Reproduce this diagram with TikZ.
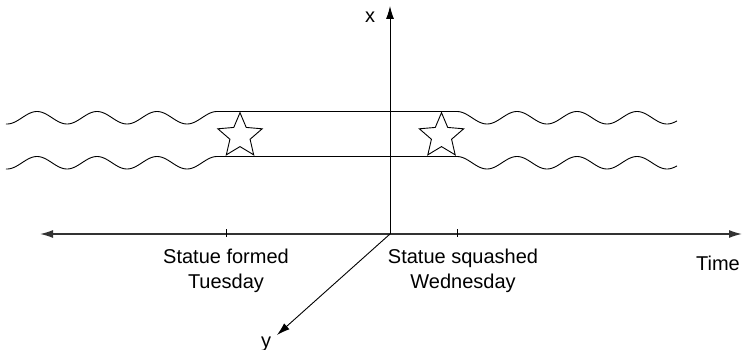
\documentclass[tikz,border=0pt]{standalone}
\usepackage{fontspec}
\setmainfont{Liberation Sans}
\usetikzlibrary{shapes.geometric, arrows.meta, positioning}

\begin{document}
\begin{tikzpicture}[
        x=1pt, y=-1pt,
        axis/.style={line width=1.3pt, draw=black!80, -{Latex[length=13pt, width=8pt]}},
        thinaxis/.style={line width=0.9pt, -{Latex[length=13pt, width=8pt]}},
        wave/.style={line width=0.9pt},
        statue/.style={draw, star, star points=5, star point ratio=2.2, minimum size=46.6pt, inner sep=0pt, line width=0.9pt},
        lbl/.style={font=\fontsize{20}{25}\selectfont, align=center, inner sep=0pt}
    ]
        \useasboundingbox (0,0) rectangle (746,350);

        % axes
        \coordinate (origin) at (390,234);
        \coordinate (left) at (40,234);
        \coordinate (right) at (742,234);
        \coordinate (xtip) at (390,6);
        \coordinate (ytip) at (277,335);
        \coordinate (tue) at (226,234);
        \coordinate (wed) at (457,234);

        \draw[axis] (origin) -- (right);
        \draw[axis] (origin) -- (left);
        \draw[thinaxis] (origin) -- (xtip);
        \draw[thinaxis] (origin) -- (ytip);
        \draw[line width=0.9pt] ([yshift=5pt]tue) -- ([yshift=-3pt]tue);
        \draw[line width=0.9pt] ([yshift=5pt]wed) -- ([yshift=-3pt]wed);

        % world lines
        \foreach \dy in {0,45} {
            \draw[wave] plot[domain=6:217, samples=120] (\x, {117.75+\dy-6.25*cos(6*(\x-37))})
                -- plot[domain=457:677, samples=120] (\x, {117.75+\dy-6.25*cos(6*(\x-37))});
        }

        \node[statue] (formed) at (240,136) {};
        \node[statue] (squashed) at (441.5,136) {};

        % labels
        \node[lbl, anchor=north, below=15pt of tue] (tuelbl) {Statue formed\\Tuesday};
        \node[lbl, anchor=north, below=15pt of wed, xshift=6pt] (wedlbl) {Statue squashed\\Wednesday};
        \node[lbl, anchor=base] (timelbl) at (718,270) {Time};
        \node[lbl, anchor=base] (xlbl) at (370,23) {x};
        \node[lbl, anchor=base] (ylbl) at (266,347) {y};
    \end{tikzpicture}
\end{document}
